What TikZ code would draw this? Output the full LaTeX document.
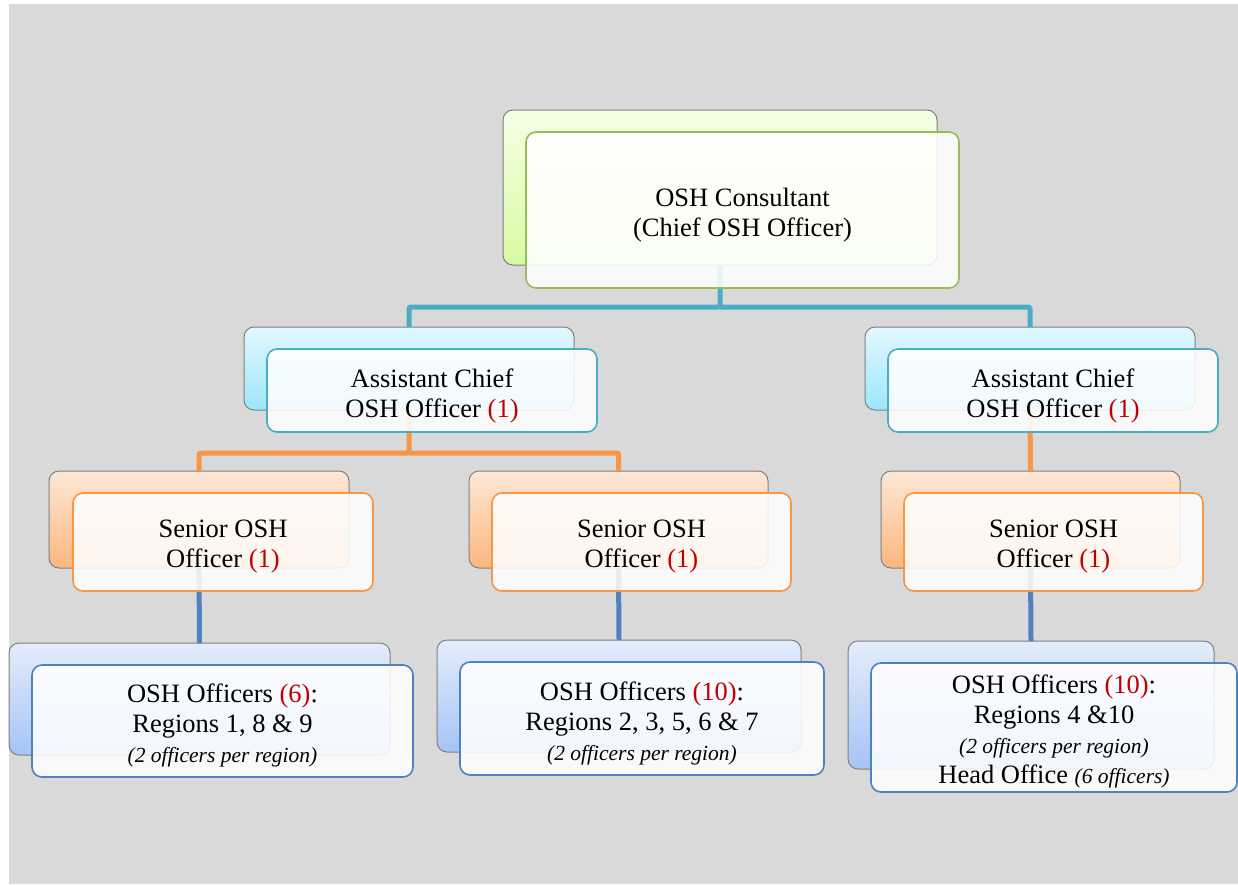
\documentclass[tikz,border=0pt]{standalone}
\usepackage{fontspec}
\setmainfont{Liberation Serif}
\definecolor{bgg}{HTML}{D9D9D9}
\definecolor{osred}{HTML}{C00000}
\definecolor{cgreen}{HTML}{9BBB59}
\definecolor{ccyan}{HTML}{4BACC6}
\definecolor{corange}{HTML}{F79646}
\definecolor{cblue}{HTML}{4F81BD}
\definecolor{backedge}{HTML}{7F7F7F}
\definecolor{gtop}{HTML}{F4FFE6}
\definecolor{gbot}{HTML}{D8FAA2}
\definecolor{ctop}{HTML}{E2F8FF}
\definecolor{cbot}{HTML}{9CE6FA}
\definecolor{otop}{HTML}{FDE8D6}
\definecolor{obot}{HTML}{FDB77E}
\definecolor{btop}{HTML}{E4EDFC}
\definecolor{bbot}{HTML}{A6C3F7}
\newcommand{\rd}[1]{\textcolor{osred}{#1}}
\newcommand{\smit}[1]{{\fontsize{21.5}{26}\selectfont\itshape #1}}
\begin{document}
\begin{tikzpicture}[x=1pt,y=-1pt,
  backbox/.style={draw=backedge, line width=1pt, rounded corners=10pt, inner sep=0pt, outer sep=0pt},
  frontbox/.style={line width=1.6pt, rounded corners=10pt, fill=white, fill opacity=0.86, inner sep=0pt, outer sep=0pt},
  txt/.style={align=center, inner sep=0pt, font=\fontsize{26.5}{30}\selectfont},
  greenback/.style={backbox, top color=gtop, bottom color=gbot},
  cyanback/.style={backbox, top color=ctop, bottom color=cbot},
  orangeback/.style={backbox, top color=otop, bottom color=obot},
  blueback/.style={backbox, top color=btop, bottom color=bbot},
  conn/.style={line width=5pt, rounded corners=2pt},
]
\useasboundingbox (0,0) rectangle (1238,884);
\fill[bgg] (9,4) rectangle (1238,884);

% back boxes
\node[greenback, minimum width=434pt, minimum height=155pt] (topB) at (720,187.5) {};
\node[cyanback, minimum width=330pt, minimum height=83pt] (acLB) at (409,368.5) {};
\node[cyanback, minimum width=330pt, minimum height=83pt] (acRB) at (1030,368.5) {};
\node[orangeback, minimum width=300pt, minimum height=97pt] (srLB) at (199,519.5) {};
\node[orangeback, minimum width=299pt, minimum height=97pt] (srMB) at (618.5,519.5) {};
\node[orangeback, minimum width=299pt, minimum height=97pt] (srRB) at (1030.5,519.5) {};
\node[blueback, minimum width=381pt, minimum height=112pt] (boLB) at (199.5,699) {};
\node[blueback, minimum width=364pt, minimum height=112pt] (boMB) at (619,696) {};
\node[blueback, minimum width=366pt, minimum height=128pt] (boRB) at (1031,705) {};

% connectors
\coordinate (j1) at (720,307);
\coordinate (j2) at (409,453);
\draw[conn, ccyan] (topB.south) -- (j1) -| (acLB.north);
\draw[conn, ccyan] (j1) -| (acRB.north);
\draw[conn, corange] (acLB.south) -- (j2) -| (srLB.north);
\draw[conn, corange] (j2) -| (srMB.north);
\draw[conn, corange] (acRB.south) -- (srRB.north);
\draw[conn, cblue] (srLB.south) -- (boLB.north);
\draw[conn, cblue] (srMB.south) -- (boMB.north);
\draw[conn, cblue] (srRB.south) -- (boRB.north);

% front boxes
\node[frontbox, draw=cgreen, minimum width=433pt, minimum height=156pt] (top) at (742.5,210) {};
\node[frontbox, draw=ccyan, minimum width=330pt, minimum height=83pt] (acL) at (432,390.5) {};
\node[frontbox, draw=ccyan, minimum width=330pt, minimum height=83pt] (acR) at (1053,390.5) {};
\node[frontbox, draw=corange, minimum width=300pt, minimum height=98pt] (srL) at (223,542) {};
\node[frontbox, draw=corange, minimum width=299pt, minimum height=98pt] (srM) at (641.5,542) {};
\node[frontbox, draw=corange, minimum width=299pt, minimum height=98pt] (srR) at (1053.5,542) {};
\node[frontbox, draw=cblue, minimum width=381pt, minimum height=112pt] (boL) at (222.5,721) {};
\node[frontbox, draw=cblue, minimum width=364pt, minimum height=113pt] (boM) at (642,718.5) {};
\node[frontbox, draw=cblue, minimum width=366pt, minimum height=129pt] (boR) at (1054,727.5) {};

% texts
\node[txt] (topT) at ([yshift=-5.5pt]top.center) {OSH Consultant\\(Chief OSH Officer)};
\node[txt] (acLT) at ([yshift=-5pt]acL.center) {Assistant Chief\\OSH Officer \rd{(1)}};
\node[txt] (acRT) at ([yshift=-5pt]acR.center) {Assistant Chief\\OSH Officer \rd{(1)}};
\node[txt] (srLT) at ([yshift=-5pt]srL.center) {Senior OSH\\Officer \rd{(1)}};
\node[txt] (srMT) at ([yshift=-5pt]srM.center) {Senior OSH\\Officer \rd{(1)}};
\node[txt] (srRT) at ([yshift=-5pt]srR.center) {Senior OSH\\Officer \rd{(1)}};
\node[txt] (boLT) at ([yshift=-4pt]boL.center) {OSH Officers \rd{(6)}:\\Regions 1, 8 \& 9\\\smit{(2 officers per region)}};
\node[txt] (boMT) at ([yshift=-4.5pt]boM.center) {OSH Officers \rd{(10)}:\\Regions 2, 3, 5, 6 \& 7\\\smit{(2 officers per region)}};
\node[txt] (boRT) at ([yshift=-4pt]boR.center) {OSH Officers \rd{(10)}:\\Regions 4 \&10\\\smit{(2 officers per region)}\\Head Office \smit{(6 officers)}};
\end{tikzpicture}
\end{document}
